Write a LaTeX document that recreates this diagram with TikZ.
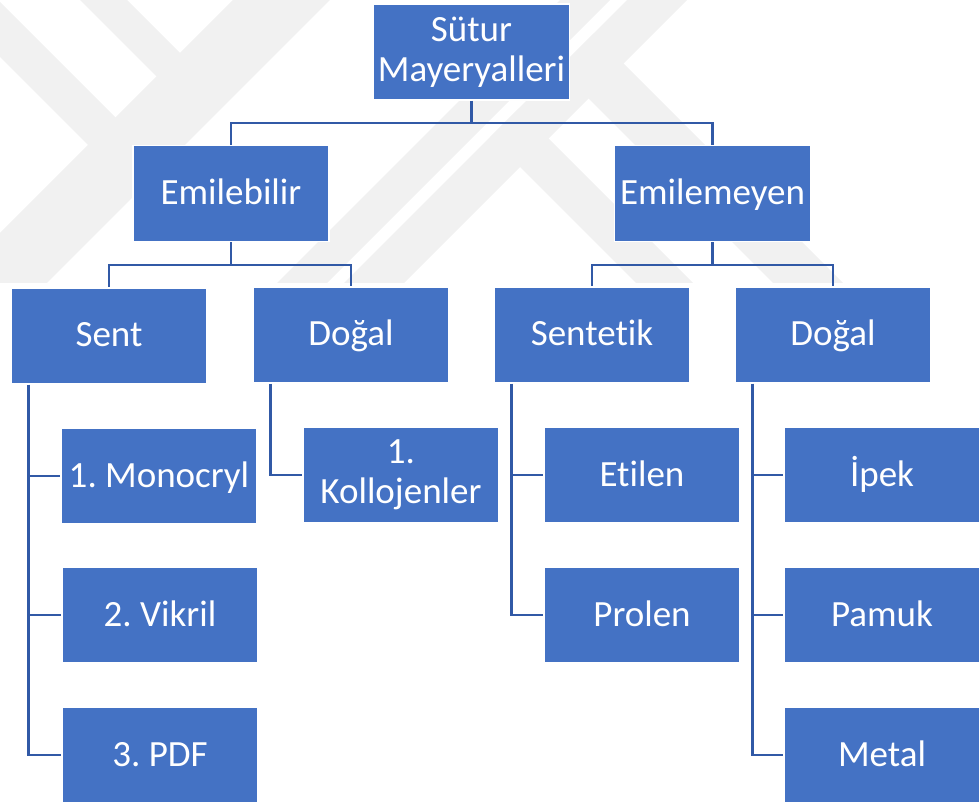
\documentclass[tikz,border=0pt]{standalone}
\usepackage{fontspec}
\setmainfont{Carlito}[Ligatures=NoCommon]
\frenchspacing
\definecolor{cbox}{RGB}{68,114,196}
\definecolor{cline}{RGB}{49,89,166}
\definecolor{cmark}{RGB}{241,241,241}
\tikzset{
  suturtree/.style={x=0.5pt,y=-0.5pt,font=\fontsize{18.5}{20}\selectfont},
  kutu/.style={fill=cbox,draw=white,line width=0.8pt,text=white,
    minimum width=98pt,minimum height=48pt,inner sep=1pt,align=center},
  tek/.style={kutu,text height=11pt,text depth=0pt},
  bag/.style={draw=cline,line width=1.3pt}
}

\begin{document}
\begin{tikzpicture}[suturtree]
  \useasboundingbox (0,0) rectangle (979,807);
  % faint watermark behind the chart
  \begin{scope}
    \clip (0,0) rectangle (979,283);
    \fill[cmark] (0,233) -- (233,0) -- (330,0) -- (0,330) -- cycle;
    \fill[cmark] (0,2) -- (0,57) -- (150,207) -- (150,152) -- cycle;
    \fill[cmark] (80,0) -- (127,0) -- (220,93) -- (173,93) -- cycle;
    \fill[cmark] (560,0) -- (610,0) -- (327,283) -- (277,283) -- cycle;
    \fill[cmark] (627,0) -- (687,0) -- (404,283) -- (344,283) -- cycle;
    \fill[cmark] (490,137) -- (518.5,108.5) -- (693,283) -- (636,283) -- cycle;
    \fill[cmark] (558.5,68.5) -- (593.5,33.5) -- (843,283) -- (773,283) -- cycle;
  \end{scope}
  % boxes
  \node[kutu] (sutur)    at (471.5,52)  {Sütur\\Mayeryalleri};
  \node[tek] (emb)       at (231,193.5) {Emilebilir};
  \node[tek] (emy)       at (712.5,193.5) {Emilemeyen};
  \node[tek] (sent)      at (109,336)   {Sent};
  \node[tek] (dogal1)    at (351,335)   {Doğal};
  \node[tek] (sentetik)  at (592,335)   {Sentetik};
  \node[tek] (dogal2)    at (833,335)   {Doğal};
  \node[tek] (mono)      at (159,476)   {1. Monocryl};
  \node[tek] (vik)       at (160,615)   {2. Vikril};
  \node[tek] (pdf)       at (160,755)   {3. PDF};
  \node[kutu] (koll)     at (401,475)   {1.\\Kollojenler};
  \node[tek] (etil)      at (642,475)   {Etilen};
  \node[tek] (prol)      at (642,615)   {Prolen};
  \node[tek] (ipek)      at (882,475)   {İpek};
  \node[tek] (pamuk)     at (882,615)   {Pamuk};
  \node[tek] (metal)     at (882,755)   {Metal};
  % connectors
  \coordinate (bus0) at (0,123);
  \coordinate (bus1) at (0,265);
  \draw[bag] (sutur.south) -- (sutur.south |- bus0) -| (emb.north);
  \draw[bag] (sutur.south |- bus0) -| (emy.north);
  \draw[bag] (emb.south) -- (emb.south |- bus1) -| (sent.north);
  \draw[bag] (emb.south |- bus1) -| (dogal1.north);
  \draw[bag] (emy.south) -- (emy.south |- bus1) -| (sentetik.north);
  \draw[bag] (emy.south |- bus1) -| (dogal2.north);
  \foreach \c in {mono,vik,pdf} \draw[bag] ([xshift=9pt]sent.south west) |- (\c.west);
  \foreach \c in {koll} \draw[bag] ([xshift=9pt]dogal1.south west) |- (\c.west);
  \foreach \c in {etil,prol} \draw[bag] ([xshift=9pt]sentetik.south west) |- (\c.west);
  \foreach \c in {ipek,pamuk,metal} \draw[bag] ([xshift=9pt]dogal2.south west) |- (\c.west);
\end{tikzpicture}
\end{document}
